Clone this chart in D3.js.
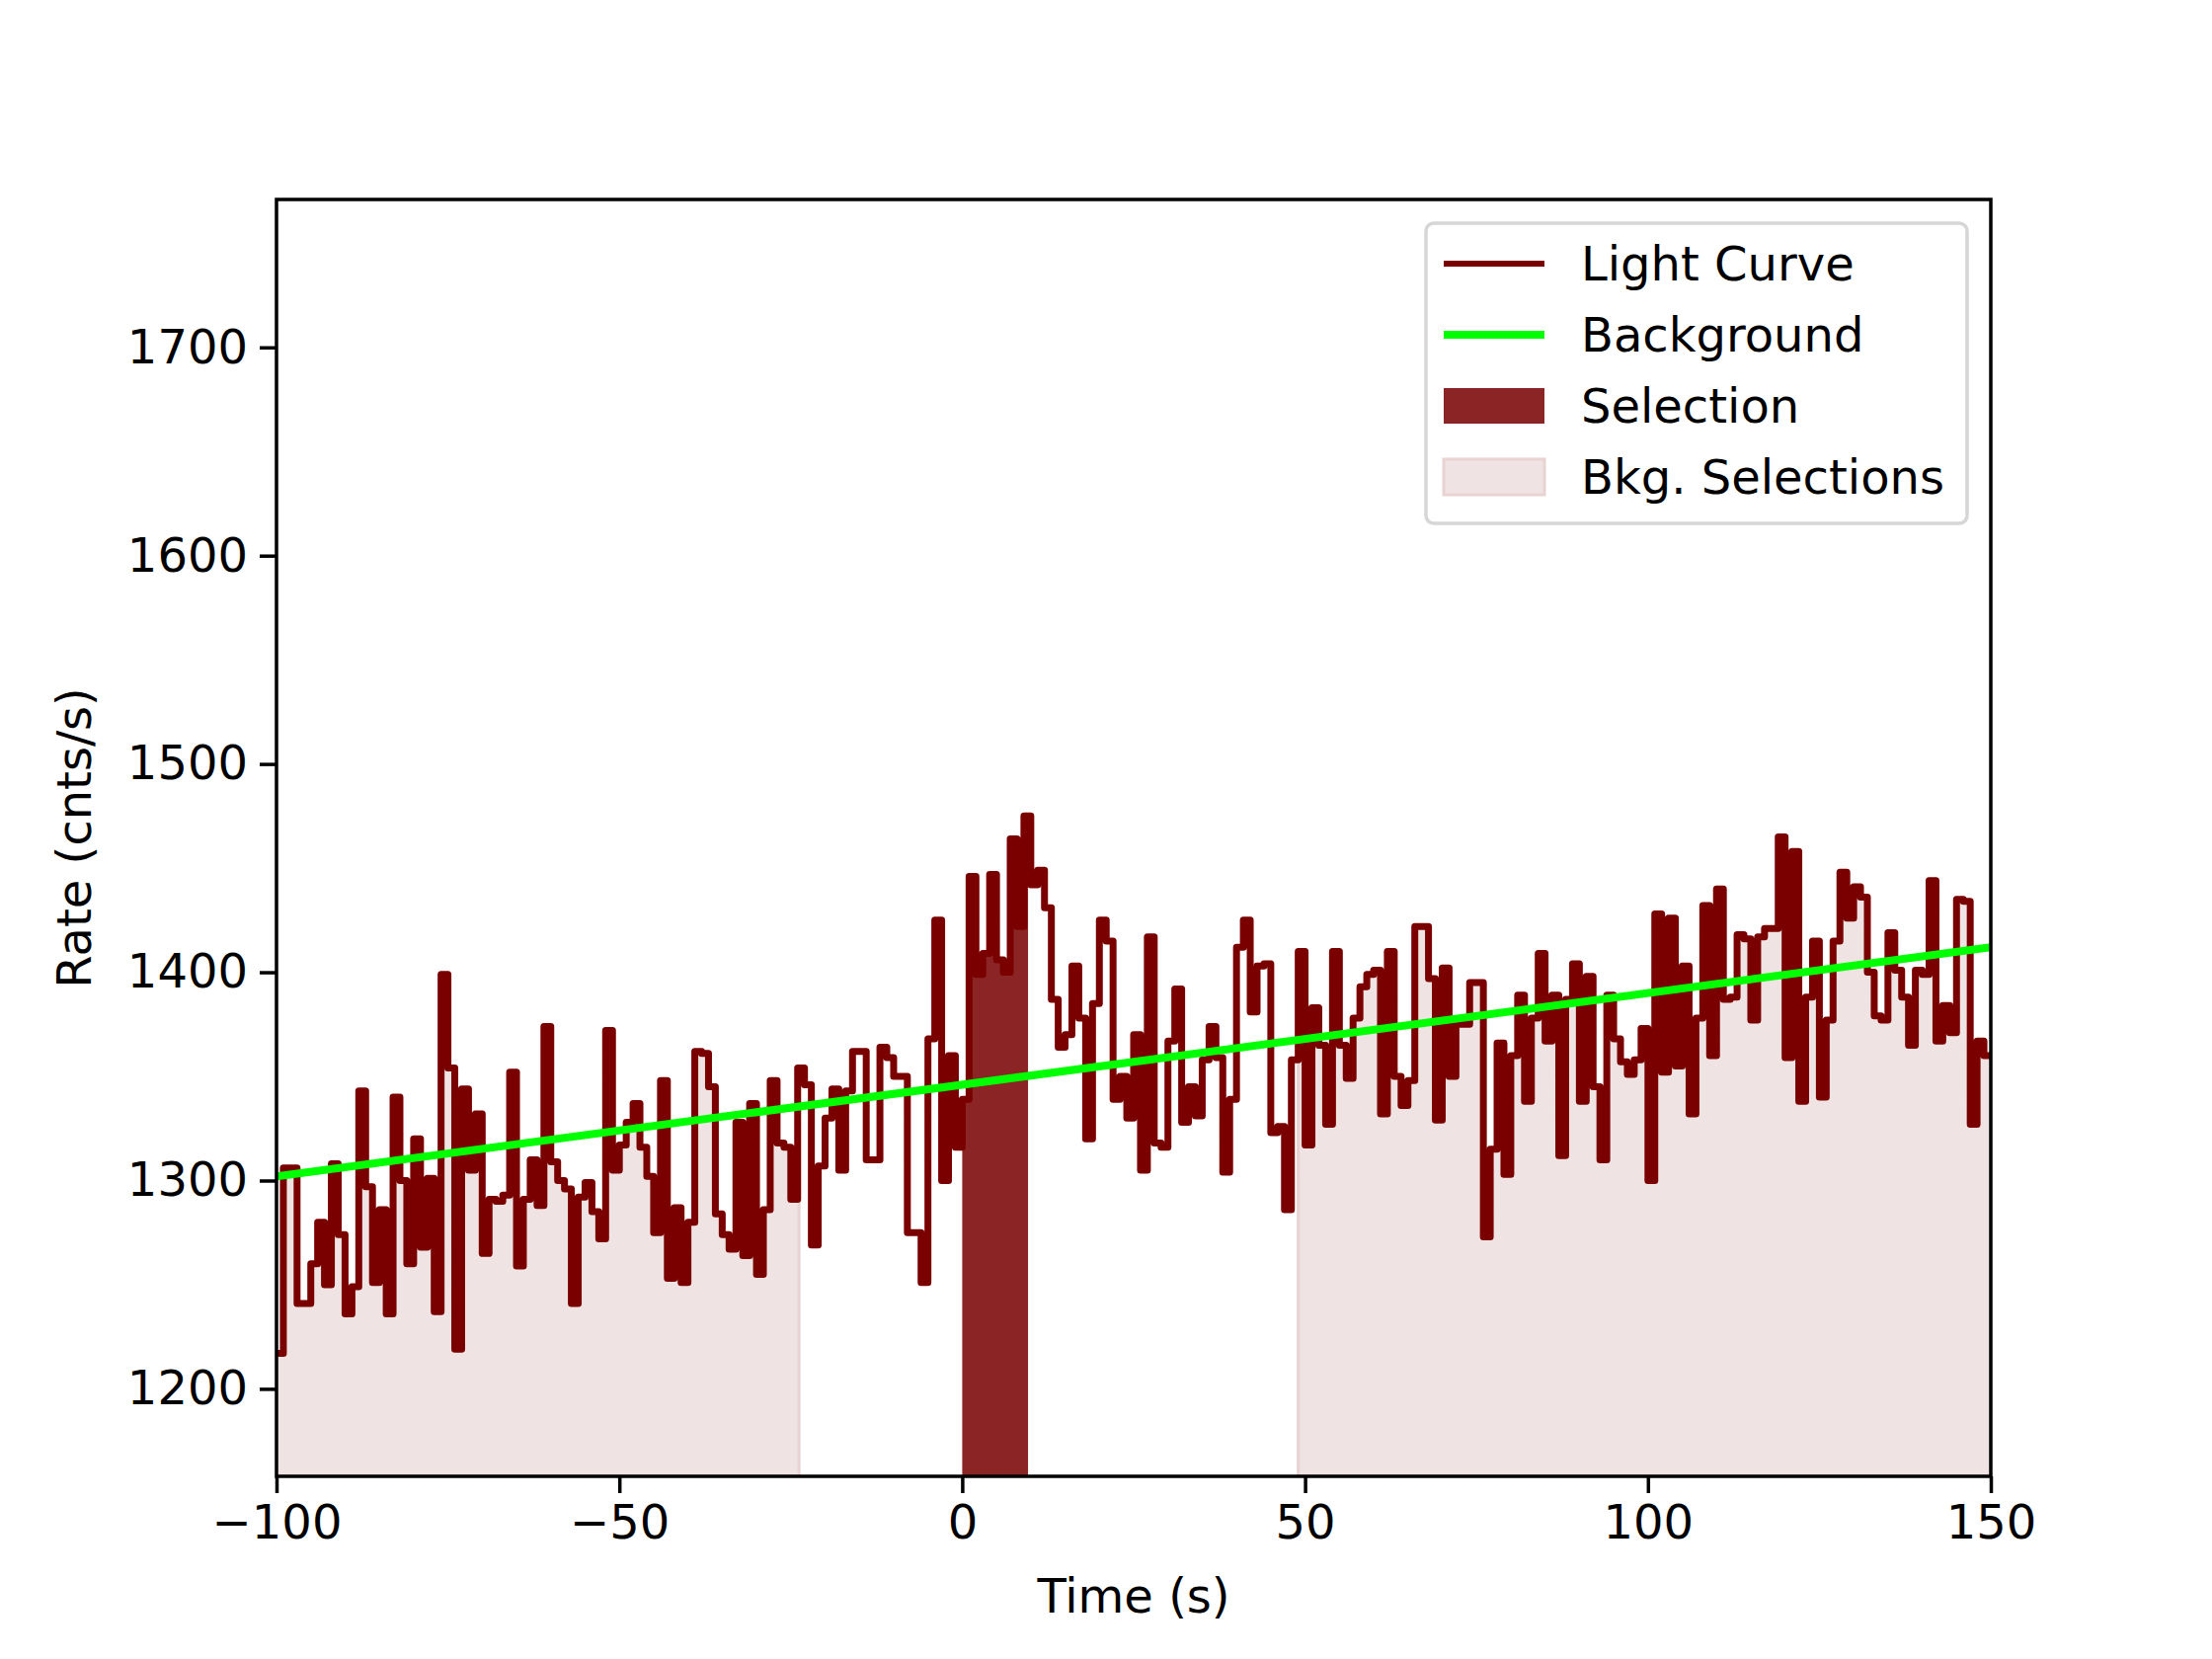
<!DOCTYPE html>
<html lang="en">
<head>
<meta charset="UTF-8">
<title>Light Curve</title>
<script src="https://d3js.org/d3.v7.min.js"></script>
<style>
  body { margin: 0; background: #fff; }
  text { font-family: 'DejaVu Sans', sans-serif; }
</style>
</head>
<body>
<script>
// 1 s bins starting at t = -100
const binStart = -100;
const rates = [
  1217,1306,1306,1241,1241,1260,1280,1250,1308,1274,
  1236,1249,1343,1297,1251,1286,1236,1340,1300,1260,
  1320,1268,1301,1237,1399,1354,1219,1344,1305,1332,
  1265,1291,1290,1293,1352,1259,1291,1310,1288,1374,
  1309,1300,1296,
  1241,1292,1299,1285,1272,1372,1305,1317,1328,1337,
  1316,1302,1275,1348,1253,1287,1251,1280,1362,1361,
  1345,1284,1274,1267,1328,1264,1337,1255,1286,1348,
  1318,1316,1291,1354,1346,1269,1307,1330,1344,
  1305,
  1343,1362,1362,1310,1310,1364,1359,1350,1350,1275,
  1275,1251,1368,1425,1300,1360,1316,1339,1446,1399,
  1409,1447,1406,1400,1464,1422,1475,1442,1449,1431,
  1387,1364,1370,1403,1378,1320,1385,1425,1415,1339,
  1350,1330,
  1370,1305,1417,1318,1316,1367,1392,1328,1345,1331,
  1358,1374,1359,1304,1339,1412,1425,1381,1403,1404,
  1323,1326,1286,1358,1410,1317,1383,1365,1327,1410,
  1365,1349,1378,1393,1399,1401,1332,1410,1350,1336,
  1348,1422,
  1422,1397,1329,1402,1350,1375,1375,1395,1395,1273,
  1315,1366,1303,1360,1389,1338,1378,1409,1367,1389,
  1312,1387,1404,1338,1398,1345,1310,1389,1368,1357,
  1351,1358,1373,1300,1428,1352,1426,1355,1403,1332,
  1378,1432,1360,1440,1387,
  1388,1418,1416,1377,1417,1421,1421,1465,1359,1458,
  1338,1388,1415,1340,1377,1415,1448,1426,1441,1436,
  1400,1379,1377,1419,1401,1388,1365,1401,1399,1444,
  1367,1384,1371,1435,1434,1327,1367,1360
];
const bkgTimes = [-100, 150];
const bkgRates = [1302, 1412];
const selection = [0, 9.6];
const bkgSelections = [[-100, -23.8], [49.0, 150]];
const xTicks = [-100, -50, 0, 50, 100, 150];
const yTicks = [1200, 1300, 1400, 1500, 1600, 1700];
const legendLabels = ['Light Curve', 'Background', 'Selection', 'Bkg. Selections'];

const W = 2240, H = 1680;
const m = {left: 280, right: 2016, top: 202, bottom: 1495};
const curveColor = '#7a0000', selColor = '#8b2525', bkgFill = '#f0e3e3';

const x = d3.scaleLinear().domain([-100, 150]).range([m.left, m.right]);
const y = d3.scaleLinear().domain([1158, 1771]).range([m.bottom, m.top]);

const svg = d3.select('body').append('svg').attr('width', W).attr('height', H);

// step points: each bin from t to t+1, plus closing point
const pts = rates.map((r, i) => [binStart + i, r]);
pts.push([binStart + rates.length, rates[rates.length - 1]]);

function rateAt(t) {
  const i = Math.max(0, Math.min(rates.length - 1, Math.floor(t - binStart)));
  return rates[i];
}
function segPts(a, b) {
  const p = [[a, rateAt(a)]];
  for (let t = Math.ceil(a); t < b; t++) if (t > a) p.push([t, rateAt(t)]);
  p.push([b, rateAt(b - 1e-6)]);
  return p;
}
const area = d3.area().curve(d3.curveStepAfter)
  .x(d => x(d[0])).y0(y(1158)).y1(d => y(d[1]));

const g = svg.append('g');
svg.append('clipPath').attr('id', 'clip').append('rect')
  .attr('x', m.left).attr('y', m.top).attr('width', m.right - m.left).attr('height', m.bottom - m.top);
g.attr('clip-path', 'url(#clip)');

bkgSelections.forEach(s => {
  g.append('path').attr('d', area(segPts(s[0], s[1])))
    .attr('fill', bkgFill).attr('stroke', '#e8d2d2').attr('stroke-width', 3);
});
g.append('path').attr('d', area(segPts(selection[0], selection[1])))
  .attr('fill', selColor);

g.append('path').datum(pts)
  .attr('d', d3.line().curve(d3.curveStepAfter).x(d => x(d[0])).y(d => y(d[1])))
  .attr('fill', 'none').attr('stroke', curveColor).attr('stroke-width', 7)
  .attr('stroke-linejoin', 'round').attr('stroke-linecap', 'round');

g.append('line')
  .attr('x1', x(bkgTimes[0])).attr('y1', y(bkgRates[0]))
  .attr('x2', x(bkgTimes[1])).attr('y2', y(bkgRates[1]))
  .attr('stroke', '#00ff00').attr('stroke-width', 8);

// axes
const xAxis = svg.append('g').attr('transform', `translate(0,${m.bottom})`)
  .call(d3.axisBottom(x).tickValues(xTicks).tickSize(17).tickPadding(12)
    .tickFormat(d => d < 0 ? '\u2212' + Math.abs(d) : d));
const yAxis = svg.append('g').attr('transform', `translate(${m.left},0)`)
  .call(d3.axisLeft(y).tickValues(yTicks).tickSize(17).tickPadding(12).tickFormat(d3.format('d')));
[xAxis, yAxis].forEach(a => {
  a.select('.domain').remove();
  a.selectAll('line').attr('stroke', '#000').attr('stroke-width', 3.5);
  a.selectAll('text').attr('font-size', 48).attr('fill', '#000');
});
svg.append('rect').attr('x', m.left).attr('y', m.top)
  .attr('width', m.right - m.left).attr('height', m.bottom - m.top)
  .attr('fill', 'none').attr('stroke', '#000').attr('stroke-width', 3.5);

svg.append('text').attr('x', (m.left + m.right) / 2).attr('y', 1633)
  .attr('text-anchor', 'middle').attr('font-size', 48).text('Time (s)');
svg.append('text').attr('transform', `translate(92,${(m.top + m.bottom) / 2}) rotate(-90)`)
  .attr('text-anchor', 'middle').attr('font-size', 48).text('Rate (cnts/s)');

// legend
const lg = svg.append('g');
lg.append('rect').attr('x', 1444).attr('y', 226).attr('width', 548).attr('height', 304)
  .attr('rx', 8).attr('fill', '#fff').attr('fill-opacity', 0.8)
  .attr('stroke', '#d6d6d6').attr('stroke-width', 3.5);
legendLabels.forEach((lab, i) => {
  const cy = 267 + i * 72;
  if (i === 0) lg.append('line').attr('x1', 1462).attr('x2', 1564).attr('y1', cy).attr('y2', cy)
    .attr('stroke', curveColor).attr('stroke-width', 6);
  if (i === 1) lg.append('line').attr('x1', 1462).attr('x2', 1564).attr('y1', cy).attr('y2', cy)
    .attr('stroke', '#00ff00').attr('stroke-width', 8);
  if (i === 2) lg.append('rect').attr('x', 1462).attr('y', cy - 18).attr('width', 102).attr('height', 36)
    .attr('fill', selColor);
  if (i === 3) lg.append('rect').attr('x', 1462).attr('y', cy - 18).attr('width', 102).attr('height', 36)
    .attr('fill', bkgFill).attr('stroke', '#e8d2d2').attr('stroke-width', 3);
  lg.append('text').attr('x', 1601).attr('y', cy).attr('dy', '0.35em')
    .attr('font-size', 48).text(lab);
});
</script>
</body>
</html>
